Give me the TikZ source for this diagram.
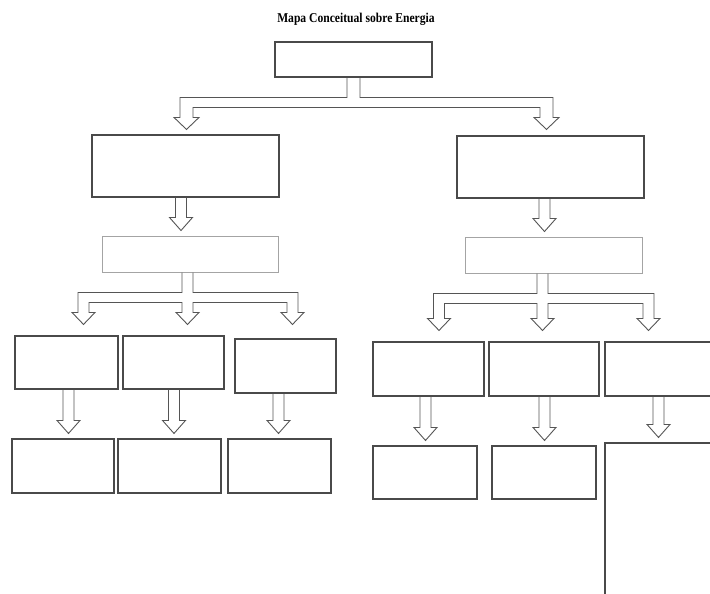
\documentclass[tikz,border=0pt]{standalone}
\usepackage{fontspec}
\setmainfont{Liberation Serif}
\usetikzlibrary{fit,calc}

\definecolor{boxline}{HTML}{4A4A4A}
\definecolor{softline}{HTML}{A4A4A4}
\definecolor{arrowline}{HTML}{555555}

\tikzset{
  box/.style={draw=boxline, line width=1.1pt, inner sep=0pt, fill=white},
  softbox/.style={box, draw=softline, line width=1pt},
  conn/.style={draw=arrowline, line width=0.9pt, line join=miter},
  titletext/.style={font=\bfseries\fontsize{13.5}{15}\selectfont, xscale=0.86, anchor=base}
}

% single hollow block arrow: from node #1 down to node #2, shaft centred at x=#3
\newcommand{\flowdown}[3]{%
  \draw[conn] let \p1=(#1.south), \p2=(#2.north) in
    (#3-5.5,\y1) -- (#3-5.5,\y2+18pt) -- (#3-11.5,\y2+18pt) -- (#3,\y2+5pt)
    -- (#3+11.5,\y2+18pt) -- (#3+5.5,\y2+18pt) -- (#3+5.5,\y1);
}

% hollow block arrow splitting three ways: from node #1 to the row starting with node #2
% shafts centred at x = #3 (left), #4 (middle), #5 (right)
\newcommand{\flowthree}[5]{%
  \draw[conn] let \p1=(#1.south), \p2=(#2.north) in
    (#4-5.5,\y1) -- (#4-5.5,\y1-20pt) -- (#3-5.5,\y1-20pt)
    -- (#3-5.5,\y2+23pt) -- (#3-11.5,\y2+23pt) -- (#3,\y2+11pt) -- (#3+11.5,\y2+23pt) -- (#3+5.5,\y2+23pt)
    -- (#3+5.5,\y1-30pt) -- (#4-5.5,\y1-30pt)
    -- (#4-5.5,\y2+23pt) -- (#4-11.5,\y2+23pt) -- (#4,\y2+11pt) -- (#4+11.5,\y2+23pt) -- (#4+5.5,\y2+23pt)
    -- (#4+5.5,\y1-30pt) -- (#5-5.5,\y1-30pt)
    -- (#5-5.5,\y2+23pt) -- (#5-11.5,\y2+23pt) -- (#5,\y2+11pt) -- (#5+11.5,\y2+23pt) -- (#5+5.5,\y2+23pt)
    -- (#5+5.5,\y1-20pt) -- (#4+5.5,\y1-20pt) -- (#4+5.5,\y1);
}

\begin{document}
\begin{tikzpicture}[x=1pt,y=-1pt]
  \useasboundingbox[fill=white] (0,0) rectangle (710,594);
  \clip (0,0) rectangle (710,594);

  \node[titletext] (title) at (356,22.5) {Mapa Conceitual sobre Energia};

  % boxes
  \node[box, fit={(275,42) (432,77)}] (top) {};
  \node[box, fit={(92,135) (279,197)}] (lmain) {};
  \node[box, fit={(457,136) (644,198)}] (rmain) {};
  \node[softbox, fit={(102,236) (278,272)}] (lsub) {};
  \node[softbox, fit={(465,237) (642,273)}] (rsub) {};

  \node[box, fit={(15,336) (118,389)}] (la1) {};
  \node[box, fit={(123,336) (224,389)}] (la2) {};
  \node[box, fit={(235,339) (336,393)}] (la3) {};
  \node[box, fit={(12,439) (114,493)}] (lb1) {};
  \node[box, fit={(118,439) (221,493)}] (lb2) {};
  \node[box, fit={(228,439) (331,493)}] (lb3) {};

  \node[box, fit={(373,342) (484,396)}] (ra1) {};
  \node[box, fit={(489,342) (599,396)}] (ra2) {};
  \node[box, fit={(605,342) (740,396)}] (ra3) {};
  \node[box, fit={(373,446) (477,499)}] (rb1) {};
  \node[box, fit={(492,446) (596,499)}] (rb2) {};
  \node[box, fit={(605,443) (740,640)}] (rb3) {};

  % two-way split under the top box
  \draw[conn] let \p1=(top.south), \p2=(lmain.north) in
    (347,\y1) -- (347,\y1-20pt) -- (180,\y1-20pt) -- (180,\y2+17pt) -- (174,\y2+17pt)
    -- (186.5,\y2+5pt) -- (199,\y2+17pt) -- (193,\y2+17pt) -- (193,\y1-30pt)
    -- (540,\y1-30pt) -- (540,\y2+17pt) -- (534,\y2+17pt) -- (546.5,\y2+5pt)
    -- (559,\y2+17pt) -- (553,\y2+17pt) -- (553,\y1-20pt) -- (360,\y1-20pt) -- (360,\y1);

  % main boxes to their sub boxes
  \flowdown{lmain}{lsub}{181}
  \flowdown{rmain}{rsub}{544.5}

  % three-way splits
  \flowthree{lsub}{la1}{83.5}{187.5}{292.5}
  \flowthree{rsub}{ra1}{439}{542.5}{648.5}

  % lowest row
  \flowdown{la1}{lb1}{68.5}
  \flowdown{la2}{lb2}{174}
  \flowdown{la3}{lb3}{278.5}
  \flowdown{ra1}{rb1}{425.5}
  \flowdown{ra2}{rb2}{544.5}
  \flowdown{ra3}{rb3}{658.5}
\end{tikzpicture}
\end{document}
